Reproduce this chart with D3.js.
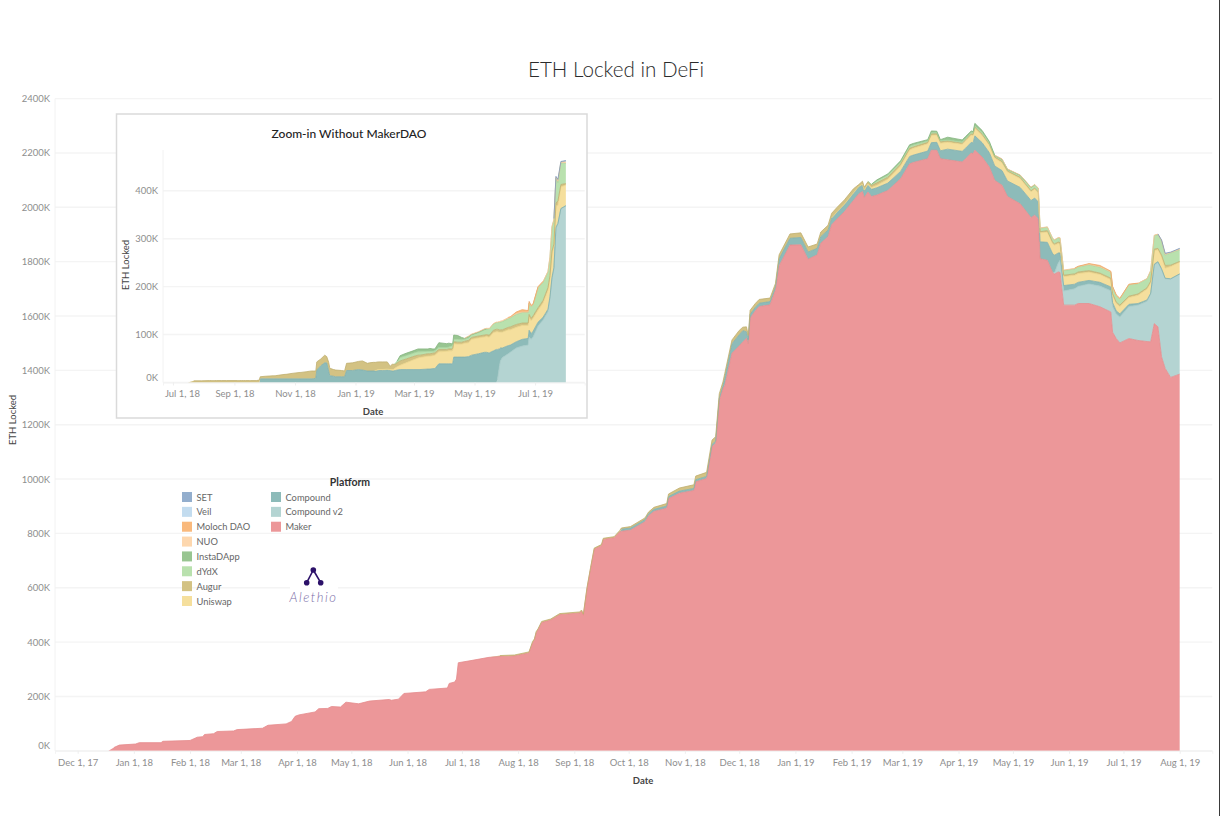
<!DOCTYPE html>
<html>
<head>
<meta charset="utf-8">
<title>ETH Locked in DeFi</title>
<script src="https://cdn.jsdelivr.net/npm/d3@7"></script>
<style>
    html, body { margin: 0; padding: 0; background: #fff; }
    svg { display: block; }
    text { font-family: Lato, sans-serif; }
</style>
</head>
<body>
<div id="chart"></div>
<script>
// Thousands of ETH.

// Before Augur shows up, only Maker has anything locked
var earlyDates = ['2017-12-18','2017-12-21','2017-12-24','2018-01-02','2018-01-04','2018-01-16','2018-01-17','2018-02-01','2018-02-05','2018-02-08',
    '2018-02-09','2018-02-14','2018-02-16','2018-02-25','2018-02-27','2018-03-13','2018-03-16','2018-03-26','2018-03-29','2018-03-31',
    '2018-04-02','2018-04-11','2018-04-13','2018-04-18','2018-04-20','2018-04-25','2018-04-28','2018-05-05','2018-05-11','2018-05-22',
    '2018-05-23','2018-05-27','2018-05-30','2018-06-11','2018-06-13','2018-06-23','2018-06-24','2018-06-27','2018-06-28','2018-06-29',
    '2018-07-06'];
var earlyMaker = [0,12,21,25,30,30,35,38,50,52,
    60,63,71,73,78,83,94,99,108,127,
    132,143,155,156,163,161,179,173,183,189,
    186,190,211,217,226,231,248,253,264,324,
    332];

var dates = ['2018-07-16','2018-07-22','2018-07-30','2018-08-07','2018-08-09','2018-08-10','2018-08-11','2018-08-12','2018-08-14','2018-08-19',
    '2018-08-24','2018-09-04','2018-09-05','2018-09-06','2018-09-08','2018-09-10','2018-09-12','2018-09-16','2018-09-17','2018-09-23',
    '2018-09-26','2018-09-27','2018-10-02','2018-10-10','2018-10-12','2018-10-15','2018-10-22','2018-10-23','2018-10-29','2018-11-06',
    '2018-11-07','2018-11-13','2018-11-16','2018-11-18','2018-11-20','2018-11-22','2018-11-23','2018-11-27','2018-12-01','2018-12-03',
    '2018-12-05','2018-12-06','2018-12-07','2018-12-10','2018-12-12','2018-12-18','2018-12-21','2018-12-23','2018-12-29','2019-01-04',
    '2019-01-08','2019-01-13','2019-01-15','2019-01-19','2019-01-21','2019-01-24','2019-01-28','2019-02-02','2019-02-05','2019-02-07',
    '2019-02-08','2019-02-10','2019-02-12','2019-02-15','2019-02-21','2019-02-28','2019-03-05','2019-03-07','2019-03-15','2019-03-17',
    '2019-03-20','2019-03-22','2019-03-26','2019-04-03','2019-04-05','2019-04-08','2019-04-09','2019-04-10','2019-04-14','2019-04-18',
    '2019-04-21','2019-04-25','2019-04-28','2019-05-05','2019-05-11','2019-05-13','2019-05-15','2019-05-16','2019-05-20','2019-05-23',
    '2019-05-24','2019-05-26','2019-05-27','2019-05-29','2019-06-04','2019-06-06','2019-06-12','2019-06-18','2019-06-24','2019-06-25',
    '2019-06-27','2019-06-29','2019-07-04','2019-07-09','2019-07-14','2019-07-16','2019-07-18','2019-07-20','2019-07-22','2019-07-24',
    '2019-07-27','2019-08-01'];

var maker = [344,347,349,360,398,408,435,445,472,481,
    501,507,514,499,596,671,742,755,778,784,
    805,808,812,843,865,881,893,928,948,958,
    990,1002,1120,1132,1290,1333,1345,1463,1490,1505,
    1518,1498,1592,1620,1635,1641,1696,1785,1861,1862,
    1809,1825,1868,1892,1936,1957,1984,2025,2050,2058,
    2036,2056,2040,2045,2062,2105,2160,2165,2179,2210,
    2210,2179,2175,2167,2179,2200,2197,2210,2185,2148,
    2099,2081,2040,2013,1962,1971,1958,1811,1805,1759,
    1755,1762,1760,1640,1640,1646,1646,1634,1615,1540,
    1517,1501,1517,1510,1506,1505,1572,1560,1450,1407,
    1374,1386];
var compoundV2 = [0,0,0,0,0,0,0,0,0,0,
    0,0,0,0,0,0,0,0,0,0,
    0,0,0,0,0,0,0,0,0,0,
    0,0,0,0,0,0,0,0,0,0,
    0,0,0,0,0,0,0,0,0,0,
    0,0,0,0,0,0,0,0,0,0,
    0,0,0,0,0,0,0,0,0,0,
    0,0,0,0,0,0,0,0,0,0,
    0,0,0,0,0,0,0,0,0,0,
    5,33,45,52,60,63,72,76,78,95,
    90,95,118,130,148,175,215,237,321,330,
    362,368];
var compound = [0,0,0,0,0,0,0,0,0,0,
    0,0,0,0,0,0,0,0,0,0,
    0,7.6,7.6,7.6,7.6,7.6,7.6,7.6,7.6,7.6,
    7.6,7.6,7.6,7.6,8,9,26,35,41,41,
    24,15,14,13,12,12,12,25,25,27,
    26,24,24,24,24,25,25,26,25,24,
    24,25,26,27,27,27,27,27,28,28,
    29,29,39,39,39,39,40,53,53,53,
    53,54,57,60,63,63,62,62,66,69,
    64,37,27,20,17,15,13,14,14,14,
    12,12,8,6,5,4,4,3,3,2,
    1,1];
var uniswap = [0,0,0,0,0,0,0,0,0,0,
    0,0,0,0,0,0,0,0,0,0,
    0,0,0,0,0,0,0,0,0,0,
    0,0,0,0,0,0,0,0,0,0,
    0,0,0,0,0,0,0,0,0,0,
    0,0,0,0,1,2,2,2,2,3,
    3,5,7,9,14,20,24,25,27,27,
    27,28,25,26,27,27,27,28,27,27,
    29,29,33,33,32,33,33,33,38,37,
    37,35,33,33,33,32,30,29,27,28,
    27,27,25,30,40,40,50,44,45,37,
    45,43];
var augur = [0,3.5,3.5,4,4,4,4,4,4,4,
    4,4,4,4,4,4,4,4,4,4,
    5,4.4,5.4,6.4,6.4,7.4,9.4,9.4,11.4,13.4,
    13.4,15,16,16.4,16,15,17,14,16,13,
    18,16,15,14,14,13,12,15,16,17,
    19,16,17,18,17,16,16,15,7,11,
    11,8,8,9,8,7,6,5,5,5,
    5,5,5,4,4,4,4,4,4,4,
    4,5,4,4,4,4,4,4,5,5,
    5,5,5,5,5,6,6,5,5,5,
    5,5,5,5,5,4,5,5,5,10,
    5,3];
var dydx = [0,0,0,0,0,0,0,0,0,0,
    0,0,0,0,0,0,0,0,0,0,
    0,0,0,0,0,0,0,0,0,0,
    0,0,0,0,0,0,0,0,0,0,
    0,0,0,0,0,0,0,0,0,0,
    0,0,0,0,0,0,0,0,0,0,
    0,2,3,7,7,7,7,7,5,5,
    4,4,4,4,4,6,6,5,6,5,
    4,5,5,7,11,11,13,13,13,14,
    14,15,16,17,18,19,21,22,22,23,
    24,23,42,38,33,38,50,50,52,38,
    45,42];
var instaDApp = [0,0,0,0,0,0,0,0,0,0,
    0,0,0,0,0,0,0,0,0,0,
    0,0,0,0,0,0,0,0,0,0,
    0,0,0,0,0,0,0,0,0,0,
    0,0,0,0,0,0,0,0,0,0,
    0,0,0,0,0,0,0,0,0,0,
    0,0,1,4,5,5,6,6,5,6,
    5,4,10,8,8,5,4,9,8,5,
    2,3,1,1,1,1,0,0,0,0,
    0,0,0,0,0,0,0,0,0,0,
    0,0,0,0,0,0,0,0,0,0,
    0,0];
var nuo = [0,0,0,0,0,0,0,0,0,0,
    0,0,0,0,0,0,0,0,0,0,
    0,0,0,0,0,0,0,0,0,0,
    0,0,0,0,0,0,0,0,0,0,
    0,0,0,0,0,0,0,0,0,0,
    0,0,0,0,0,0,0,0,0,0,
    0,0,0,0,0,0,0,0,0,0,
    0,0,0,0,0,0,0,0,0,0,
    0.5,1,1,1,1,1,1,1,1,1,
    1,2,2,2,2,1,2,1,1,1,
    1,1,1,1,1,2,2,2,2,3,
    2,3];
var moloch = [0,0,0,0,0,0,0,0,0,0,
    0,0,0,0,0,0,0,0,0,0,
    0,0,0,0,0,0,0,0,0,0,
    0,0,0,0,0,0,0,0,0,0,
    0,0,0,0,0,0,0,0,0,0,
    0,0,0,0,0,0,0,0,0,0,
    0,0,0,0,0,0,0,0,0,0,
    0,0,0,0,0,0,0,0,0,0,
    0,0,0,0,0,0,0,0,0,0,
    0,0,0,0,1,1,3,5,3,3,
    2,1,1,1,0,0,0,0,0,0,
    0,0];
var veil = [0,0,0,0,0,0,0,0,0,0,
    0,0,0,0,0,0,0,0,0,0,
    0,0,0,0,0,0,0,0,0,0,
    0,0,0,0,0,0,0,0,0,0,
    0,0,0,0,0,0,0,0,0,0,
    0,0,0,0,0,0,0,0,0,0,
    0,0,0,0,0,0,0,0,0,0,
    0,0,0,0,0,0,0,0,0,0,
    0,0,0,0,0,0,0,0,0,0,
    0,0,0,0,0,0,0,0,0,0,
    0,0,0,0,0,0,0,0,0,0,
    0,1];
var set = [0,0,0,0,0,0,0,0,0,0,
    0,0,0,0,0,0,0,0,0,0,
    0,0,0,0,0,0,0,0,0,0,
    0,0,0,0,0,0,0,0,0,0,
    0,0,0,0,0,0,0,0,0,0,
    0,0,0,0,0,0,0,0,0,0,
    0,0,0,0,0,0,0,0,0,0,
    0,0,0,0,0,0,0,0,0,0,
    0,0,0,0,0,0,0,0,0,0,
    0,0,0,0,0,0,0,0,0,1,
    0,0,0,0,0,0,0,1,2,4,
    1,2];

var platforms = ['Maker','Compound v2','Compound','Uniswap','Augur','dYdX','InstaDApp','NUO','Moloch DAO','Veil','SET'];
var platformColors = ['#ec9799','#b4d4d2','#8dbbb9','#f5df9d','#d3c283','#b9e1ae','#98c591','#fdd7ae','#f9b97c','#c3dcef','#93aecd'];
var platformLines = ['#e58a8c','#a5c9c7','#7fafad','#ecd488','#bfae6e','#a5d29a','#84b47d','#f5c798','#eea766','#aecbe2','#7d99bc'];

// Legend reads top-down, column by column
var legendOrder = ['SET','Veil','Moloch DAO','NUO','InstaDApp','dYdX','Augur','Uniswap','Compound','Compound v2','Maker'];

var mainTicks = [0,200,400,600,800,1000,1200,1400,1600,1800,2000,2200,2400];
var insetTicks = [0,100,200,300,400];

/**** SETUP ****/
var parseDate = d3.utcParse('%Y-%m-%d');
var formatDate = d3.utcFormat('%b %-d, %y');
var insetKeys = platforms.slice(1);

var series = [compoundV2, compound, uniswap, augur, dydx, instaDApp, nuo, moloch, veil, set];

var lateRows = dates.map(function(d, i) {
    var row = {date: parseDate(d), Maker: maker[i]};
    insetKeys.forEach(function(k, j) { row[k] = series[j][i]; });
    return row;
});
var earlyRows = earlyDates.map(function(d, i) {
    return {date: parseDate(d), Maker: earlyMaker[i]};
});
var allRows = earlyRows.concat(lateRows);

var color = d3.scaleOrdinal().domain(platforms).range(platformColors);
var lineColor = d3.scaleOrdinal().domain(platforms).range(platformLines);

var svg = d3.select('#chart').append('svg')
    .attr('width', 1220)
    .attr('height', 816);

svg.append('rect').attr('width', 1220).attr('height', 816).attr('fill', '#fff');

/**** ONE STACKED PANEL, USED TWICE ****/
function drawPanel(rows, keys, x, y, yTicks, tickEvery) {
    var g = svg.append('g');
    var xr = x.range(), yr = y.range();

    g.selectAll('.grid').data(yTicks).enter().append('line')
        .attr('x1', xr[0]).attr('x2', xr[1])
        .attr('y1', function(d) { return y(d); }).attr('y2', function(d) { return y(d); })
        .attr('stroke', '#f4f4f4').attr('stroke-width', 1.4);

    g.append('line')
        .attr('x1', xr[0]).attr('x2', xr[0]).attr('y1', yr[0]).attr('y2', yr[1])
        .attr('stroke', '#f2f2f2');

    var stacked = d3.stack().keys(keys).value(function(d, k) { return d[k] || 0; })(rows);
    var area = d3.area()
        .x(function(d) { return x(d.data.date); })
        .y0(function(d) { return y(d[0]); })
        .y1(function(d) { return y(d[1]); });
    var topLine = d3.line()
        .defined(function(d) { return d[1] > d[0]; })
        .x(function(d) { return x(d.data.date); })
        .y(function(d) { return y(d[1]); });

    g.selectAll('.layer').data(stacked).enter().append('path')
        .attr('class', 'layer')
        .attr('d', area)
        .attr('fill', function(d) { return color(d.key); });
    g.selectAll('.edge').data(stacked).enter().append('path')
        .attr('class', 'edge')
        .attr('d', topLine)
        .attr('fill', 'none')
        .attr('stroke', function(d) { return lineColor(d.key); })
        .attr('stroke-width', 0.8);

    // Axes
    var xAxis = d3.axisBottom(x).ticks(d3.utcMonth.every(tickEvery)).tickFormat(formatDate).tickSize(3).tickPadding(5);
    var gx = g.append('g').attr('transform', 'translate(0,' + yr[0] + ')').call(xAxis);
    var yAxis = d3.axisLeft(y).tickValues(yTicks).tickFormat(function(d) { return d + 'K'; }).tickSize(0).tickPadding(5);
    var gy = g.append('g').attr('transform', 'translate(' + xr[0] + ',0)').call(yAxis);

    gx.select('.domain').attr('stroke', '#f3f3f3');
    gy.select('.domain').remove();
    gx.selectAll('line').attr('stroke', '#eeeeee');
    [gx, gy].forEach(function(a) {
        a.selectAll('text')
            .attr('fill', '#8e8e8e')
            .style('font-family', 'Lato, sans-serif')
            .style('font-size', '9.5px');
    });
    // The zero label sits above the baseline, like the original
    gy.selectAll('.tick').filter(function(d) { return d === 0; }).select('text').attr('dy', '-0.25em');
    return gx;
}

/**** MAIN CHART ****/
var x = d3.scaleUtc()
    .domain([new Date(Date.UTC(2017, 10, 18, 12)), new Date(Date.UTC(2019, 7, 19))])
    .range([55, 1212.3]);
var y = d3.scaleLinear().domain([0, 2400]).range([750.8, 98.6]);

drawPanel(allRows, platforms, x, y, mainTicks, 1);

svg.append('text').attr('x', 616).attr('y', 77)
    .attr('text-anchor', 'middle')
    .attr('fill', '#2b2b2b')
    .style('font-size', '20.6px')
    .style('font-weight', 300)
    .text('ETH Locked in DeFi');

svg.append('text').attr('x', 643).attr('y', 784)
    .attr('text-anchor', 'middle').attr('fill', '#444')
    .style('font-size', '9.5px').style('font-weight', 700)
    .text('Date');
svg.append('text').attr('transform', 'translate(16,420) rotate(-90)')
    .attr('text-anchor', 'middle').attr('fill', '#444')
    .style('font-size', '9.5px')
    .text('ETH Locked');

/**** INSET ****/
svg.append('rect')
    .attr('x', 116.5).attr('y', 114).attr('width', 470.5).attr('height', 304)
    .attr('fill', '#fff').attr('stroke', '#dadada').attr('stroke-width', 1.5);

var xInset = d3.scaleUtc()
    .domain([new Date(Date.UTC(2018, 5, 21)), new Date(Date.UTC(2019, 7, 20))])
    .range([163, 584.7]);
var yInset = d3.scaleLinear().domain([0, 485]).range([382.5, 150]);

var gxInset = drawPanel(lateRows, insetKeys, xInset, yInset, insetTicks, 2);
// First date label is pushed right so it stays inside the panel
gxInset.selectAll('.tick text').filter(function(d, i) { return i === 0; }).attr('dx', 9);

svg.append('text').attr('x', 349).attr('y', 137.5)
    .attr('text-anchor', 'middle').attr('fill', '#222')
    .style('font-size', '12px').style('font-weight', 500)
    .text('Zoom-in Without MakerDAO');
svg.append('text').attr('x', 373).attr('y', 415)
    .attr('text-anchor', 'middle').attr('fill', '#444')
    .style('font-size', '9.5px').style('font-weight', 700)
    .text('Date');
svg.append('text').attr('transform', 'translate(129,265) rotate(-90)')
    .attr('text-anchor', 'middle').attr('fill', '#444')
    .style('font-size', '9.5px')
    .text('ETH Locked');

/**** LEGEND ****/
svg.append('text').attr('x', 350).attr('y', 485.5)
    .attr('text-anchor', 'middle').attr('fill', '#333')
    .style('font-size', '10.5px').style('font-weight', 700)
    .text('Platform');

var legendRow = d3.scalePoint().domain(d3.range(8)).range([497, 601]);
var legend = svg.selectAll('.legend').data(legendOrder).enter().append('g')
    .attr('class', 'legend')
    .attr('transform', function(d, i) {
        return 'translate(' + (i < 8 ? 182 : 271) + ',' + legendRow(i % 8) + ')';
    });
legend.append('rect')
    .attr('x', 0).attr('y', -5).attr('width', 10).attr('height', 10)
    .attr('fill', function(d) { return color(d); });
legend.append('text')
    .attr('x', 14.5).attr('y', 3.5)
    .attr('fill', '#666')
    .style('font-size', '9.3px')
    .text(function(d) { return d; });

/**** LOGO ****/
var logo = svg.append('g');
logo.append('rect').attr('x', 290).attr('y', 562).attr('width', 48).attr('height', 44).attr('fill', '#fff');
var logoDots = [[313.3, 570, 2.8], [306.7, 582.7, 2.8], [320.7, 582.7, 2.8]];
logo.selectAll('line').data(logoDots.slice(1)).enter().append('line')
    .attr('x1', logoDots[0][0]).attr('y1', logoDots[0][1])
    .attr('x2', function(d) { return d[0]; }).attr('y2', function(d) { return d[1]; })
    .attr('stroke', '#2c1169').attr('stroke-width', 1.6);
logo.selectAll('circle').data(logoDots).enter().append('circle')
    .attr('cx', function(d) { return d[0]; }).attr('cy', function(d) { return d[1]; })
    .attr('r', function(d) { return d[2]; })
    .attr('fill', '#2c1169');
logo.append('text').attr('x', 313.5).attr('y', 601.5)
    .attr('text-anchor', 'middle').attr('fill', '#7b6ea8')
    .style('font-size', '13px').style('font-style', 'italic').style('font-weight', 300).style('letter-spacing', '1.5px')
    .text('Alethio');

// Dark edge on the right of the screenshot
svg.append('rect').attr('x', 1219).attr('y', 0).attr('width', 1).attr('height', 816).attr('fill', '#3a3a3a');
</script>
</body>
</html>
